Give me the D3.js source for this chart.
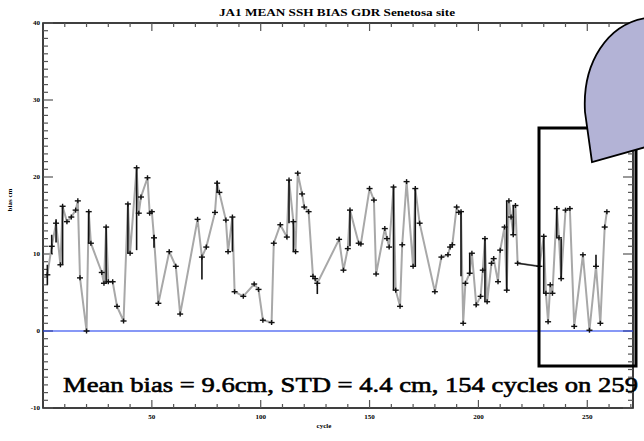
<!DOCTYPE html>
<html>
<head>
<meta charset="utf-8">
<script src="https://cdn.jsdelivr.net/npm/d3@7"></script>
<style>
  body { margin: 0; background: #fff; }
  svg { display: block; font-family: "Liberation Serif", "DejaVu Serif", serif; }
</style>
</head>
<body>
<svg id="chart" width="644" height="441"></svg>
<script>
// cycle number and bias (cm)
const cycles = [2,4,6,8,9,11,13,15,16,17,20,21,22,27,28,29,30,32,34,37,39,40,43,44,45,48,49,50,51,53,
  58,61,63,71,73,75,79,80,81,84,85,87,88,92,97,99,101,105,106,109,112,113,115,116,117,119,120,122,124,125,
  126,136,138,140,141,145,146,150,152,153,157,158,159,161,162,164,165,167,170,171,173,180,183,186,187,188,190,191,192,193,
  194,196,197,199,201,202,203,204,206,207,209,210,212,213,214,215,216,217,218,228,230,231,232,233,234,236,237,238,240,242,
  244,248,251,254,256,258,259];
const bias = [7.3,11.0,14.0,8.6,16.2,14.2,14.8,15.7,16.9,6.9,0.0,15.5,11.4,7.6,6.2,13.5,6.4,6.4,3.2,1.3,16.5,10.1,21.2,15.3,17.4,19.9,15.3,15.5,12.1,3.6,
  10.3,8.4,2.2,14.5,9.6,10.9,15.4,19.2,18.0,14.4,10.3,14.8,5.1,4.5,6.1,5.4,1.4,1.1,11.4,13.8,12.2,19.6,14.2,10.3,20.5,17.8,16.1,15.5,7.1,6.8,
  6.2,11.9,7.9,10.7,15.7,11.4,11.3,18.5,17.0,7.4,13.3,12.0,10.9,18.7,5.3,3.2,11.2,19.4,8.4,18.5,14.0,5.1,9.6,9.9,10.9,11.2,16.1,15.4,15.5,1.0,
  6.2,7.5,10.1,3.4,4.5,7.9,12.0,3.8,8.8,9.4,6.4,10.5,13.5,5.3,16.9,14.8,12.5,16.3,8.8,8.4,12.3,4.9,1.2,6.0,4.9,15.9,12.1,6.8,15.7,15.9,
  0.6,9.9,0.1,8.4,1.0,13.5,15.5];
// long error bars: [cycle, low, high]
const errBars = [[2,6.0,8.6],[4,10.0,12.5],[6,11.5,14.5],[9,8.6,16.2],[21,11.4,15.5],[29,6.2,13.5],[39,10.1,16.5],
  [43,10.5,21.2],[51,10.8,12.5],[73,6.7,9.6],[80,18.0,19.5],[87,10.3,14.8],[113,14.0,19.6],[115,10.3,14.2],
  [126,4.8,6.2],[141,11.0,15.7],[161,5.3,18.7],[171,8.4,18.5],[192,7.1,15.5],[196,7.5,10.1],[203,3.8,12.0],
  [213,5.3,16.9],[216,12.5,16.3],[230,4.9,12.3],[236,12.1,15.9],[238,6.8,12.0],[254,8.4,9.9]];
// data gap drawn as a dark segment
const gapFrom = 218, gapTo = 228;
const xTicks = [50,100,150,200,250];
const yTicks = [-10,0,10,20,30,40];
const title = 'JA1 MEAN SSH BIAS GDR Senetosa site';
const note = 'Mean bias = 9.6cm, STD = 4.4 cm, 154 cycles on 259';

const svg = d3.select('#chart');
const pl = 43, pr = 633, pt = 23, pb = 408;
const x = d3.scaleLinear().domain([0, 271]).range([pl, pr]);
const y = d3.scaleLinear().domain([-10, 40]).range([pb, pt]);

// frame
svg.append('rect').attr('x', pl).attr('y', pt).attr('width', pr - pl).attr('height', pb - pt)
  .attr('fill', 'none').attr('stroke', '#000').attr('stroke-width', 1.5);

// ticks: minor every 1 cm / 10 cycles, major on labels
const tk = svg.append('g').attr('stroke', '#555').attr('stroke-width', 1.2);
d3.range(-10, 41, 1).forEach(function (v) {
  const len = v % 10 === 0 ? 10 : 5;
  tk.append('line').attr('x1', pl).attr('x2', pl + len).attr('y1', y(v)).attr('y2', y(v));
  tk.append('line').attr('x1', pr).attr('x2', pr - len).attr('y1', y(v)).attr('y2', y(v));
});
d3.range(10, 271, 10).forEach(function (c) {
  const len = c % 50 === 0 ? 8 : 4;
  tk.append('line').attr('x1', x(c)).attr('x2', x(c)).attr('y1', pb).attr('y2', pb - len);
  tk.append('line').attr('x1', x(c)).attr('x2', x(c)).attr('y1', pt).attr('y2', pt + len);
});

svg.append('g').selectAll('text').data(yTicks).join('text')
  .attr('x', pl - 3).attr('y', function (d) { return y(d); }).attr('dy', '0.35em')
  .attr('text-anchor', 'end').attr('font-size', 7).attr('font-weight', 'bold').text(function (d) { return d; });
svg.append('g').selectAll('text').data(xTicks).join('text')
  .attr('x', function (d) { return x(d); }).attr('y', pb + 11)
  .attr('text-anchor', 'middle').attr('font-size', 7).attr('font-weight', 'bold').text(function (d) { return d; });

svg.append('text').attr('x', 324).attr('y', 428).attr('text-anchor', 'middle')
  .attr('font-size', 7).attr('font-weight', 'bold').text('cycle');
svg.append('text').attr('transform', 'translate(12,200) rotate(-90)').attr('text-anchor', 'middle')
  .attr('font-size', 7).attr('font-weight', 'bold').text('bias cm');
svg.append('text').attr('x', 337).attr('y', 16).attr('text-anchor', 'middle')
  .attr('font-size', 10).attr('font-weight', 'bold').attr('textLength', 236).attr('lengthAdjust', 'spacingAndGlyphs')
  .text(title);

// zero line
svg.append('line').attr('x1', pl).attr('x2', pr).attr('y1', y(0)).attr('y2', y(0))
  .attr('stroke', '#1133ee').attr('stroke-width', 1.2);

// series
const pts = cycles.map(function (c, i) { return [c, bias[i]]; });
const line = d3.line().x(function (d) { return x(d[0]); }).y(function (d) { return y(d[1]); });
svg.append('path').datum(pts).attr('d', line)
  .attr('fill', 'none').attr('stroke', '#a8a8a8').attr('stroke-width', 2);
svg.append('path').datum(pts.filter(function (p) { return p[0] === gapFrom || p[0] === gapTo; }))
  .attr('d', line).attr('fill', 'none').attr('stroke', '#222').attr('stroke-width', 1.4);

const eb = svg.append('g').attr('stroke', '#111').attr('stroke-width', 1.6);
errBars.forEach(function (b) {
  eb.append('line').attr('x1', x(b[0])).attr('x2', x(b[0])).attr('y1', y(b[1])).attr('y2', y(b[2]));
});
const mk = svg.append('g').attr('stroke', '#111').attr('stroke-width', 1.4);
pts.forEach(function (p) {
  mk.append('line').attr('x1', x(p[0]) - 3).attr('x2', x(p[0]) + 3).attr('y1', y(p[1])).attr('y2', y(p[1]));
  mk.append('line').attr('x1', x(p[0])).attr('x2', x(p[0])).attr('y1', y(p[1]) - 2.5).attr('y2', y(p[1]) + 2.5);
});

// highlight box and callout
svg.append('rect').attr('x', 539).attr('y', 128).attr('width', 97).attr('height', 238)
  .attr('fill', 'none').attr('stroke', '#000').attr('stroke-width', 3);
svg.append('path').attr('d', 'M646,18 C608,24 582,62 585,112 L592,162 L646,147 Z')
  .attr('fill', '#b3b3d6').attr('stroke', '#000').attr('stroke-width', 1.8);

svg.append('text').attr('x', 63).attr('y', 392).attr('font-size', 22)
  .attr('stroke', '#000').attr('stroke-width', 0.6)
  .attr('textLength', 575).attr('lengthAdjust', 'spacingAndGlyphs').text(note);
</script>
</body>
</html>
